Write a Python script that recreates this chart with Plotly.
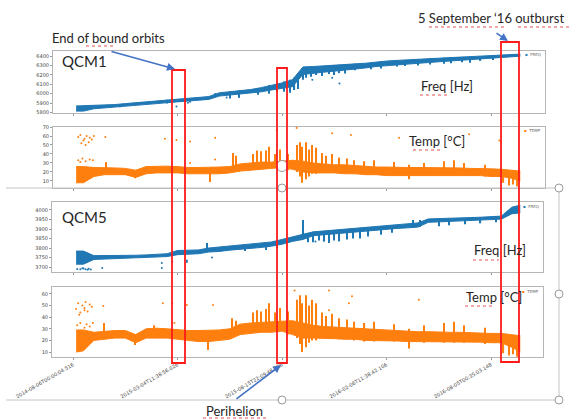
import plotly.graph_objects as go

# ---------------- data ----------------
# x axis: sample index (in units of the tick spacing); tick labels are timestamps
TICK_POS = [0, 1, 2, 3, 4]
TICK_TEXT = ["2014-08-06T00:00:04.516", "2015-03-04T11:38:56.026",
             "2015-08-15T22:09:48.826", "2016-02-06T11:38:42.106",
             "2016-08-05T00:35:03.148"]

X_BAND = [0.03, 0.1, 0.2, 0.3, 0.4, 0.5, 0.6, 0.7, 0.8, 0.9, 1.0, 1.1, 1.2, 1.3,
          1.4, 1.5, 1.6, 1.7, 1.8, 1.9, 2.0, 2.1, 2.2, 2.3, 2.4, 2.5, 2.6, 2.7,
          2.8, 2.9, 3.0, 3.1, 3.2, 3.3, 3.4, 3.5, 3.6, 3.7, 3.8, 3.9, 4.0, 4.1,
          4.2, 4.28]

# QCM1 frequency [Hz] – band envelope
QCM1_FREQ_LO = [5815, 5815, 5840, 5848, 5855, 5865, 5875, 5885, 5895, 5905, 5915,
                5925, 5930, 5940, 5975, 5985, 5995, 6005, 6020, 6040, 6055, 6075,
                6205, 6220, 6230, 6240, 6250, 6262, 6275, 6290, 6300, 6310, 6318,
                6325, 6332, 6340, 6348, 6355, 6362, 6370, 6378, 6385, 6395, 6400]
QCM1_FREQ_HI = [5870, 5872, 5872, 5880, 5885, 5895, 5905, 5915, 5925, 5935, 5948,
                5955, 5962, 5970, 6010, 6020, 6035, 6045, 6065, 6090, 6115, 6150,
                6285, 6290, 6295, 6305, 6310, 6318, 6325, 6340, 6348, 6355, 6362,
                6368, 6374, 6380, 6385, 6390, 6395, 6400, 6405, 6410, 6415, 6422]
QCM1_FREQ_SPK_X = [0.45, 0.9, 1.36, 1.5, 1.59, 1.77, 1.88, 1.95, 2.02, 2.08, 2.12,
                   2.15, 2.2, 2.23, 2.28, 2.33, 2.38, 2.45, 2.5, 2.55, 2.6, 2.7, 2.85,
                   2.95, 3.1, 3.18, 3.3, 3.42, 3.55, 3.62, 3.72, 3.8, 3.9, 4.02]
QCM1_FREQ_SPK_LO = [5855, 5895, 5962, 5950, 5960, 5990, 6000, 6020, 6020, 6010, 6040,
                    6050, 6150, 6170, 6180, 6200, 6190, 6210, 6200, 6220, 6215, 6250,
                    6260, 6270, 6290, 6295, 6300, 6310, 6320, 6325, 6335, 6330, 6350,
                    6360]
QCM1_FREQ_SPK_HI = [5890, 5935, 6005, 6020, 6035, 6060, 6090, 6110, 6130, 6150, 6170,
                    6180, 6285, 6287, 6290, 6292, 6294, 6300, 6305, 6308, 6310, 6318,
                    6330, 6345, 6355, 6360, 6368, 6376, 6382, 6386, 6390, 6395, 6400,
                    6405]
QCM1_FREQ_OUT_X = [0.99, 1.12, 1.10, 1.47, 1.59, 2.29, 2.55, 2.48]
QCM1_FREQ_OUT_Y = [5863, 5915, 5905, 5960, 5965, 6150, 6110, 6170]

# QCM1 temperature [°C]
QCM1_TEMP_LO = [8, 8, 15, 17, 17, 17, 14, 18, 19, 19, 19, 18, 18, 18, 18, 19, 21, 22,
                23, 24, 25, 23, 20, 19, 19, 19, 18, 18, 17, 17, 16, 16, 16, 16, 16,
                16, 16, 16, 16, 16, 15, 15, 13, 10]
QCM1_TEMP_HI = [26, 26, 25, 25, 24.5, 24, 22, 26, 26.5, 26.5, 26, 25, 25, 25, 25.5,
                26, 29, 30, 31, 31, 32, 33, 32, 30, 29, 28, 28, 27, 26, 25.5, 25.5,
                25, 25, 25, 25, 25, 24.5, 24.5, 24, 24, 23.5, 23, 22, 21]
QCM1_TEMP_SPK_X = [0.32, 0.59, 1.31, 1.53, 1.56, 1.72, 1.76, 1.80, 1.85, 1.88, 1.93,
                   1.98, 2.06, 2.14, 2.17, 2.19, 2.23, 2.26, 2.29, 2.33, 2.38, 2.42,
                   2.48, 2.55, 2.62, 2.69, 2.79, 2.88, 3.07, 3.22, 3.36, 3.55, 3.65,
                   3.74, 3.94, 4.12, 4.17, 4.21, 4.25]
QCM1_TEMP_SPK_LO = [20, 13, 9, 22, 22, 25, 25, 25, 26, 26, 26, 26, 22, 20, 15, 8, 12,
                    15, 18, 18, 20, 20, 20, 19, 19, 18, 17, 17, 16, 12, 16, 16, 16,
                    16, 15, 8, 5, 6, 4]
QCM1_TEMP_SPK_HI = [31, 20, 20, 41, 38, 40, 44, 43, 44, 48, 40, 45, 40, 50, 53, 48,
                    53, 45, 50, 47, 41, 38, 40, 36, 35, 33, 32, 33, 31, 28, 30, 32,
                    33, 30, 28, 22, 22, 22, 21]
QCM1_TEMP_OUT_X = [0.05, 0.07, 0.10, 0.11, 0.13, 0.15, 0.16, 0.18, 0.20, 0.08, 0.12,
                   0.05, 0.09, 0.12, 0.16, 0.19, 0.07, 0.31, 0.88, 0.99, 1.12, 1.36,
                   1.95, 2.14, 2.48, 2.66, 1.12, 1.36, 3.12, 3.79, 4.08]
QCM1_TEMP_OUT_Y = [59, 61, 55, 57, 60, 53, 58, 56, 60, 52, 50, 33, 35, 32, 34, 33,
                   31, 59, 57, 55.5, 54, 58, 66.7, 69, 63, 61, 30, 34, 58, 62, 55]

# QCM5 frequency [Hz]
QCM5_FREQ_LO = [3715, 3715, 3740, 3742, 3744, 3745, 3747, 3750, 3752, 3755, 3765,
                3768, 3770, 3779, 3782, 3789, 3793, 3798, 3803, 3810, 3820, 3835,
                3845, 3865, 3870, 3875, 3880, 3885, 3890, 3895, 3900, 3903, 3906,
                3910, 3935, 3937, 3939, 3941, 3943, 3946, 3949, 3952, 3980, 3985]
QCM5_FREQ_HI = [3784, 3784, 3760, 3760, 3760, 3761, 3762, 3764, 3766, 3770, 3787,
                3789, 3790, 3800, 3805, 3810, 3815, 3820, 3826, 3832, 3845, 3860,
                3872, 3885, 3890, 3895, 3900, 3905, 3910, 3915, 3920, 3925, 3930,
                3932, 3953, 3954, 3956, 3958, 3960, 3962, 3965, 3968, 4015, 4025]
QCM5_FREQ_SPK_X = [1.28, 1.65, 1.85, 1.95, 2.2, 2.25, 2.3, 2.35, 2.4, 2.45, 2.5, 2.55,
                   2.62, 2.68, 2.75, 2.82, 2.95, 3.05, 3.25, 3.32, 3.5, 3.6, 3.75,
                   3.9, 4.05]
QCM5_FREQ_SPK_LO = [3780, 3785, 3790, 3800, 3850, 3830, 3830, 3840, 3835, 3826, 3840,
                    3835, 3845, 3850, 3850, 3860, 3870, 3880, 3908, 3910, 3915, 3920,
                    3925, 3930, 3935]
QCM5_FREQ_SPK_HI = [3826, 3815, 3826, 3840, 3947, 3875, 3885, 3885, 3890, 3890, 3895,
                    3895, 3900, 3903, 3905, 3910, 3915, 3920, 3947, 3947, 3954, 3956,
                    3958, 3962, 3966]
QCM5_FREQ_OUT_X = [0.04, 0.07, 0.10, 0.12, 0.15, 0.17, 0.09, 0.14, 0.28, 0.85, 0.85,
                   0.95, 1.09, 1.09, 1.33, 2.32, 2.40]
QCM5_FREQ_OUT_Y = [3690, 3688, 3692, 3689, 3691, 3687, 3694, 3686, 3695, 3721, 3695,
                   3726, 3735, 3726, 3750, 3835, 3840]

# QCM5 temperature [°C]
QCM5_TEMP_LO = [10, 11, 20, 21, 22, 22, 18, 22, 22, 22, 21, 20, 19, 19, 20, 21, 25,
                26, 27, 27, 28, 25, 22, 22, 22, 21.5, 21, 21, 20, 20, 19.5, 19.5, 19,
                19, 19, 19, 19, 19, 19, 18.5, 18, 18, 14, 10]
QCM5_TEMP_HI = [29, 29, 27, 28, 28.5, 28.5, 25, 30, 30.5, 30, 29, 28.5, 28.5, 28.5,
                29, 30, 34, 35, 35.5, 36, 37, 37, 35, 33, 32, 31.5, 31, 30, 29.5, 29,
                28.5, 28, 28, 27.5, 27.5, 27, 27, 27, 26.5, 26.5, 26, 26, 25, 24]
QCM5_TEMP_SPK_X = [0.30, 0.59, 0.78, 1.29, 1.52, 1.56, 1.72, 1.76, 1.80, 1.85, 1.88,
                   1.93, 1.98, 2.06, 2.14, 2.17, 2.19, 2.23, 2.26, 2.29, 2.33, 2.38,
                   2.42, 2.48, 2.55, 2.62, 2.69, 2.79, 2.88, 3.07, 3.22, 3.36, 3.55,
                   3.65, 3.74, 3.94, 4.12, 4.17, 4.21, 4.25]
QCM5_TEMP_SPK_LO = [22, 16, 22, 11.7, 24, 24, 27, 27, 27, 28, 28, 28, 28, 25, 22, 17,
                    10, 14, 18, 20, 20, 22, 22, 22, 21, 21, 20, 19, 19, 19, 13, 18,
                    18, 18, 18, 17, 9, 7, 8, 6]
QCM5_TEMP_SPK_HI = [35, 23, 33, 22, 39, 37, 44, 46, 45, 47, 52, 44, 48, 45, 55, 59,
                    52, 59, 50, 55, 52, 44, 41, 43, 39, 38, 36, 35, 36, 34, 30, 33,
                    35, 36, 33, 31, 25, 25, 24, 24]
QCM5_TEMP_OUT_X = [0.03, 0.05, 0.07, 0.09, 0.11, 0.12, 0.14, 0.16, 0.18, 0.06, 0.11,
                   0.04, 0.07, 0.11, 0.13, 0.16, 0.19, 0.29, 0.86, 0.95, 1.09, 0.97,
                   1.34, 2.12, 2.45, 2.64, 2.67, 2.45, 3.31, 3.79]
QCM5_TEMP_OUT_Y = [47, 52, 44, 50, 48, 53, 45, 51, 49, 42, 46, 33, 35, 31, 34, 32,
                   35, 49.7, 52, 52, 50.5, 35, 50.5, 63, 63, 52, 58, 46, 55, 60]

# ---------------- helpers ----------------
W, H = 572, 419
BLUE = "#1f77b4"
ORANGE = "#ff7f0e"
RED = "#ff1a1a"
ARROW = "#4472c4"


def PX(x):
    return x / W


def PY(y):
    return 1 - y / H


fig = go.Figure()


def add_series(k, color, lo, hi, sx, slo, shi, ox, oy):
    xa = "x" if k == 1 else f"x{k}"
    ya = "y" if k == 1 else f"y{k}"
    fig.add_trace(go.Scatter(x=X_BAND, y=lo, mode="lines", xaxis=xa, yaxis=ya,
                             line=dict(color=color, width=1), hoverinfo="skip"))
    fig.add_trace(go.Scatter(x=X_BAND, y=hi, mode="lines", xaxis=xa, yaxis=ya,
                             line=dict(color=color, width=1), fill="tonexty",
                             fillcolor=color, hoverinfo="skip"))
    fig.add_trace(go.Bar(x=sx, y=[h - l for l, h in zip(slo, shi)], base=slo,
                         width=0.011, xaxis=xa, yaxis=ya,
                         marker=dict(color=color, line=dict(width=0)),
                         hoverinfo="skip"))
    fig.add_trace(go.Scatter(x=ox, y=oy, mode="markers", xaxis=xa, yaxis=ya,
                             marker=dict(color=color, size=2), hoverinfo="skip"))


add_series(1, BLUE, QCM1_FREQ_LO, QCM1_FREQ_HI, QCM1_FREQ_SPK_X, QCM1_FREQ_SPK_LO,
           QCM1_FREQ_SPK_HI, QCM1_FREQ_OUT_X, QCM1_FREQ_OUT_Y)
add_series(2, ORANGE, QCM1_TEMP_LO, QCM1_TEMP_HI, QCM1_TEMP_SPK_X, QCM1_TEMP_SPK_LO,
           QCM1_TEMP_SPK_HI, QCM1_TEMP_OUT_X, QCM1_TEMP_OUT_Y)
add_series(3, BLUE, QCM5_FREQ_LO, QCM5_FREQ_HI, QCM5_FREQ_SPK_X, QCM5_FREQ_SPK_LO,
           QCM5_FREQ_SPK_HI, QCM5_FREQ_OUT_X, QCM5_FREQ_OUT_Y)
add_series(4, ORANGE, QCM5_TEMP_LO, QCM5_TEMP_HI, QCM5_TEMP_SPK_X, QCM5_TEMP_SPK_LO,
           QCM5_TEMP_SPK_HI, QCM5_TEMP_OUT_X, QCM5_TEMP_OUT_Y)

# panel boxes in pixels: (left, top, right, bottom)
BOXES = {1: (53, 51, 545, 113), 2: (53, 127, 545, 188),
         3: (52, 202, 543, 272), 4: (52, 287, 543, 357)}
YRANGES = {1: [5795, 6455], 2: [2.2, 70], 3: [3674, 4042], 4: [5.7, 66]}
YTICKS = {1: list(range(5800, 6401, 100)), 2: list(range(10, 71, 10)),
          3: list(range(3700, 4001, 50)), 4: list(range(10, 61, 10))}
LEG = {1: ("FREQ", BLUE), 2: ("TEMP", ORANGE), 3: ("FREQ", BLUE), 4: ("TEMP", ORANGE)}
XSCALE = 104.5
XZERO = 73

layout = dict(width=W, height=H, margin=dict(l=0, r=0, t=0, b=0, autoexpand=False),
              paper_bgcolor="white", plot_bgcolor="white", barmode="overlay",
              font=dict(family="Lato"), showlegend=False)

ann = []

for k, (l, t, r, b) in BOXES.items():
    sfx = "" if k == 1 else str(k)
    layout[f"xaxis{sfx}"] = dict(
        domain=[PX(l), PX(r)], range=[(l - XZERO) / XSCALE, (r - XZERO) / XSCALE],
        anchor=f"y{sfx}", showgrid=False, zeroline=False, showline=True,
        linecolor="#b5b5b5", linewidth=1, mirror=True, ticks="outside", ticklen=2,
        tickcolor="#999", tickvals=TICK_POS, ticktext=TICK_TEXT, automargin=False,
        showticklabels=(k == 4), tickangle=-30,
        tickfont=dict(size=5, color="#444", family="DejaVu Sans"))
    layout[f"yaxis{sfx}"] = dict(
        domain=[PY(b), PY(t)], range=YRANGES[k], anchor=f"x{sfx}", showgrid=False,
        zeroline=False, showline=True, linecolor="#b5b5b5", linewidth=1, mirror=True,
        ticks="outside", ticklen=2, tickcolor="#999", tickvals=YTICKS[k],
        automargin=False, tickfont=dict(size=5, color="#444", family="DejaVu Sans"))
    name, col = LEG[k]
    ann.append(dict(x=PX(r - 2), y=PY(t + 4), xref="paper", yref="paper",
                    text=f"<span style='color:{col}'>\u25aa</span>  {name}",
                    showarrow=False, xanchor="right", yanchor="middle",
                    font=dict(size=4, color="#666", family="DejaVu Sans")))

fig.update_layout(**layout)

shapes = []


def rect(x0, y0, x1, y1, color, width):
    shapes.append(dict(type="rect", xref="paper", yref="paper", x0=PX(x0), x1=PX(x1),
                       y0=PY(y1), y1=PY(y0), line=dict(color=color, width=width),
                       layer="above"))


def line(x0, y0, x1, y1, color, width, dash="solid"):
    shapes.append(dict(type="line", xref="paper", yref="paper", x0=PX(x0), x1=PX(x1),
                       y0=PY(y0), y1=PY(y1), line=dict(color=color, width=width, dash=dash),
                       layer="above"))


def circle(cx, cy, r):
    shapes.append(dict(type="circle", xref="paper", yref="paper", x0=PX(cx - r),
                       x1=PX(cx + r), y0=PY(cy + r), y1=PY(cy - r),
                       line=dict(color="#9a9a9a", width=1), fillcolor="white",
                       layer="above"))


# slide selection frame
line(6, 188, 559, 188, "#c4c4c4", 1)
line(559, 188, 559, 400, "#c4c4c4", 1)
line(6, 400, 559, 400, "#c4c4c4", 1)
for cx, cy in [(282, 188), (559, 188), (559, 294), (559, 400), (282, 400)]:
    circle(cx, cy, 4)
circle(282, 166, 5.5)

# red event boxes
rect(172, 70, 185, 363, RED, 1.8)
rect(277, 68, 287, 363, RED, 1.8)
rect(501, 42, 519, 362, RED, 1.8)

# spell-check underlines
for x0, x1, y in [(86, 116, 46), (429, 506, 27), (518, 571, 27), (420, 447, 95),
                  (413, 442, 150), (473, 499, 260), (465, 494, 306), (203, 266, 418)]:
    line(x0, y, x1, y, "#e05050", 1, "dot")

fig.update_layout(shapes=shapes)


def text(x, y, s, size, anchor="center"):
    ann.append(dict(x=PX(x), y=PY(y), xref="paper", yref="paper", text=s,
                    showarrow=False, xanchor=anchor, yanchor="middle",
                    font=dict(family="Lato", size=size, color="#262626")))


def arrow(tx, ty, hx, hy):
    ann.append(dict(x=PX(hx), y=PY(hy), xref="paper", yref="paper", text="",
                    showarrow=True, ax=tx - hx, ay=ty - hy, arrowhead=2,
                    arrowsize=1, arrowwidth=1.6, arrowcolor=ARROW))


text(108, 38, "End of bound orbits", 13)
text(416, 18, "5 September \u201816 outburst", 13, "left")
text(60, 61, "QCM1", 15, "left")
text(60, 217, "QCM5", 15, "left")
text(447, 86, "Freq [Hz]", 13)
text(437, 141, "Temp [\u00b0C]", 13)
text(500, 250, "Freq [Hz]", 13)
text(494, 297, "Temp [\u00b0C]", 13)
text(234, 411, "Perihelion", 13)
arrow(110, 51, 175, 69)
arrow(495, 32, 508, 41)
arrow(235, 400, 281, 365)

fig.update_layout(annotations=ann)

fig.write_html("out.html", config={"displayModeBar": False},
               post_script="document.body.style.margin='0';")
